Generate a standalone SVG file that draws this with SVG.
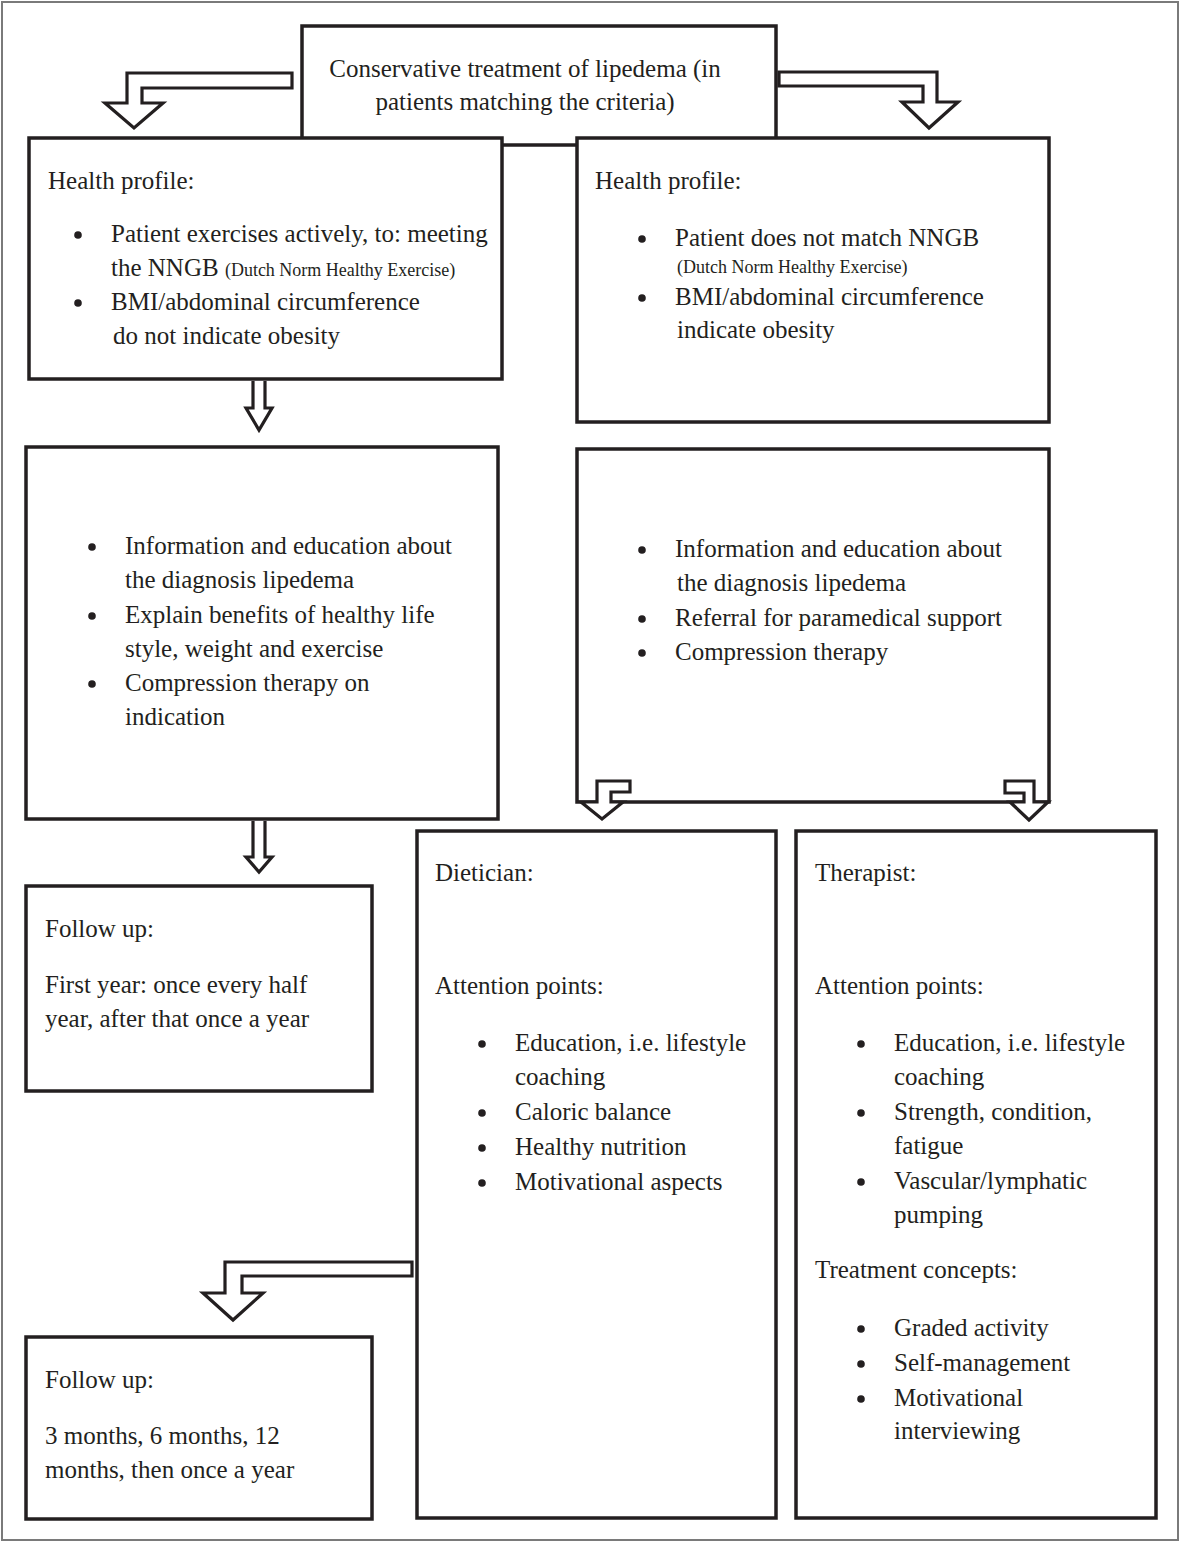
<svg xmlns="http://www.w3.org/2000/svg" width="1180" height="1542" viewBox="0 0 1180 1542">
  <style>
    .box { fill: #ffffff; stroke: #231f20; stroke-width: 3.5; }
    .arrow { fill: #ffffff; stroke: #231f20; stroke-width: 3.2; stroke-linejoin: miter; }
    .dot { fill: #231f20; }
    text { font-family: "Liberation Serif", "Times New Roman", serif; font-size: 25px; fill: #231f20; }
    .small { font-size: 18px; }
    .mid { text-anchor: middle; }
  </style>

  <!-- page frame -->
  <rect x="2" y="2" width="1176" height="1538" fill="#ffffff" stroke="#7a7a7a" stroke-width="2"/>

  <!-- top node -->
  <g id="start">
    <rect class="box" x="302" y="26" width="474" height="119"/>
    <text class="mid" x="525" y="77">Conservative treatment of lipedema (in</text>
    <text class="mid" x="525" y="110">patients matching the criteria)</text>
  </g>

  <!-- health profile: active -->
  <g id="profile-active">
    <rect class="box" x="29" y="138" width="473" height="241"/>
    <text x="48" y="189">Health profile:</text>
    <circle class="dot" cx="78" cy="235" r="3.8"/>
    <text x="111" y="242">Patient exercises actively, to: meeting</text>
    <text x="111" y="276">the NNGB <tspan class="small">(Dutch Norm Healthy Exercise)</tspan></text>
    <circle class="dot" cx="78" cy="303" r="3.8"/>
    <text x="111" y="310">BMI/abdominal circumference</text>
    <text x="113" y="344">do not indicate obesity</text>
  </g>

  <!-- health profile: inactive -->
  <g id="profile-inactive">
    <rect class="box" x="577" y="138" width="472" height="284"/>
    <text x="595" y="189">Health profile:</text>
    <circle class="dot" cx="642" cy="239" r="3.8"/>
    <text x="675" y="246">Patient does not match NNGB</text>
    <text class="small" x="677" y="273">(Dutch Norm Healthy Exercise)</text>
    <circle class="dot" cx="642" cy="298" r="3.8"/>
    <text x="675" y="305">BMI/abdominal circumference</text>
    <text x="677" y="338">indicate obesity</text>
  </g>

  <!-- advice: active -->
  <g id="advice-active">
    <rect class="box" x="26" y="447" width="472" height="372"/>
    <circle class="dot" cx="92" cy="547" r="3.8"/>
    <text x="125" y="554">Information and education about</text>
    <text x="125" y="588">the diagnosis lipedema</text>
    <circle class="dot" cx="92" cy="616" r="3.8"/>
    <text x="125" y="623">Explain benefits of healthy life</text>
    <text x="125" y="657">style, weight and exercise</text>
    <circle class="dot" cx="92" cy="684" r="3.8"/>
    <text x="125" y="691">Compression therapy on</text>
    <text x="125" y="725">indication</text>
  </g>

  <!-- advice: inactive -->
  <g id="advice-inactive">
    <rect class="box" x="577" y="449" width="472" height="353"/>
    <circle class="dot" cx="642" cy="550" r="3.8"/>
    <text x="675" y="557">Information and education about</text>
    <text x="677" y="591">the diagnosis lipedema</text>
    <circle class="dot" cx="642" cy="619" r="3.8"/>
    <text x="675" y="626">Referral for paramedical support</text>
    <circle class="dot" cx="642" cy="653" r="3.8"/>
    <text x="675" y="660">Compression therapy</text>
  </g>

  <!-- follow up (active) -->
  <g id="followup-active">
    <rect class="box" x="26" y="886" width="346" height="205"/>
    <text x="45" y="937">Follow up:</text>
    <text x="45" y="993">First year: once every half</text>
    <text x="45" y="1027">year, after that once a year</text>
  </g>

  <!-- dietician -->
  <g id="dietician">
    <rect class="box" x="417" y="831" width="359" height="687"/>
    <text x="435" y="881">Dietician:</text>
    <text x="435" y="994">Attention points:</text>
    <circle class="dot" cx="482" cy="1044" r="3.8"/>
    <text x="515" y="1051">Education, i.e. lifestyle</text>
    <text x="515" y="1085">coaching</text>
    <circle class="dot" cx="482" cy="1113" r="3.8"/>
    <text x="515" y="1120">Caloric balance</text>
    <circle class="dot" cx="482" cy="1148" r="3.8"/>
    <text x="515" y="1155">Healthy nutrition</text>
    <circle class="dot" cx="482" cy="1183" r="3.8"/>
    <text x="515" y="1190">Motivational aspects</text>
  </g>

  <!-- therapist -->
  <g id="therapist">
    <rect class="box" x="796" y="831" width="360" height="687"/>
    <text x="815" y="881">Therapist:</text>
    <text x="815" y="994">Attention points:</text>
    <circle class="dot" cx="861" cy="1044" r="3.8"/>
    <text x="894" y="1051">Education, i.e. lifestyle</text>
    <text x="894" y="1085">coaching</text>
    <circle class="dot" cx="861" cy="1113" r="3.8"/>
    <text x="894" y="1120">Strength, condition,</text>
    <text x="894" y="1154">fatigue</text>
    <circle class="dot" cx="861" cy="1182" r="3.8"/>
    <text x="894" y="1189">Vascular/lymphatic</text>
    <text x="894" y="1223">pumping</text>
    <text x="815" y="1278">Treatment concepts:</text>
    <circle class="dot" cx="861" cy="1329" r="3.8"/>
    <text x="894" y="1336">Graded activity</text>
    <circle class="dot" cx="861" cy="1364" r="3.8"/>
    <text x="894" y="1371">Self-management</text>
    <circle class="dot" cx="861" cy="1399" r="3.8"/>
    <text x="894" y="1406">Motivational</text>
    <text x="894" y="1439">interviewing</text>
  </g>

  <!-- follow up (inactive) -->
  <g id="followup-inactive">
    <rect class="box" x="26" y="1337" width="346" height="182"/>
    <text x="45" y="1388">Follow up:</text>
    <text x="45" y="1444">3 months, 6 months, 12</text>
    <text x="45" y="1478">months, then once a year</text>
  </g>

  <!-- block arrows -->
  <g id="connectors">
    <path class="arrow" d="M292,73 L127,73 L127,103 L105,103 L134,128 L163,103 L142,103 L142,88 L292,88 Z"/>
    <path class="arrow" d="M779,72 L937,72 L937,102 L958,102 L929,128 L902,102 L923,102 L923,86 L779,86 Z"/>
    <path class="arrow" d="M253,381 L253,408 L246,408 L259,430 L272,408 L265,408 L265,381"/>
    <path class="arrow" d="M253,821 L253,857 L246,857 L259,872 L272,857 L265,857 L265,821"/>
    <path class="arrow" d="M630,781 L597,781 L597,802 L581,802 L602,819 L623,802 L611,802 L611,792 L630,792 Z"/>
    <path class="arrow" d="M1005,781 L1034,781 L1034,802 L1048,802 L1029,820 L1010,802 L1024,802 L1024,793 L1005,793 Z"/>
    <path class="arrow" d="M412,1262 L225,1262 L225,1293 L203,1293 L233,1320 L263,1293 L242,1293 L242,1276 L412,1276 Z"/>
  </g>
</svg>
